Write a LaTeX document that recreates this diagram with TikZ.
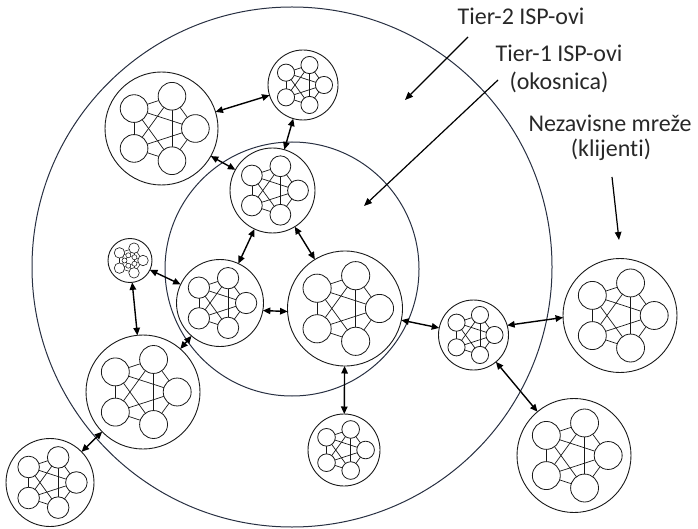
\documentclass[tikz,border=0pt]{standalone}
\usepackage{fontspec}
\setmainfont{Carlito}[Ligatures=NoCommon]
\usetikzlibrary{arrows.meta}
\definecolor{ringcol}{RGB}{40,48,66}
\definecolor{txtcol}{RGB}{40,40,40}
\definecolor{inkcol}{RGB}{25,25,25}

\tikzset{
  ring/.style={draw=ringcol, line width=1pt},
  cluster/.style={circle, draw=inkcol, line width=0.9pt, inner sep=0pt, outer sep=0pt},
  host/.style={circle, draw=inkcol, fill=white, line width=0.8pt, inner sep=0pt, outer sep=0pt},
  netline/.style={draw=inkcol, line width=0.7pt},
  link/.style={{Triangle[length=7.5pt,width=6.5pt]}-{Triangle[length=7.5pt,width=6.5pt]}, draw=black, line width=1.4pt},
  pointer/.style={-{Triangle[length=8pt,width=6.5pt]}, draw=black, line width=1.2pt},
  labeltext/.style={text=txtcol, font=\fontsize{24}{29}\selectfont, anchor=base, inner sep=0pt}
}

% One network: outer circle (named node) holding five fully meshed hosts
\newcommand\netcluster[4]{%
  \node[cluster, minimum size=2*#4] (#1) at (#2,#3) {};
  \begin{scope}[shift={(#2,#3)}]
    \foreach \k in {0,...,4} \coordinate (#1-\k) at (\k*72:0.6*#4);
    \foreach \p/\q in {0/1,0/2,0/3,0/4,1/2,1/3,1/4,2/3,2/4,3/4}
      \draw[netline] (#1-\p) -- (#1-\q);
    \foreach \k in {0,...,4} \node[host, minimum size=0.49*#4] at (#1-\k) {};
  \end{scope}}

\begin{document}
\begin{tikzpicture}[x=1pt, y=-1pt]
  \useasboundingbox (0,0) rectangle (698,529);

  % Tier-2 and Tier-1 rings
  \node[circle, ring, minimum size=520, inner sep=0pt] (tier2) at (292,267) {};
  \node[circle, ring, minimum size=254, inner sep=0pt] (tier1) at (292,269) {};

  % networks
  \netcluster{c1}{161.5}{128.5}{56.5}
  \netcluster{c2}{303}{85}{35}
  \netcluster{c3}{272.5}{190.5}{42.5}
  \netcluster{c4}{220}{303}{43.5}
  \netcluster{c5}{345}{308.5}{57.5}
  \netcluster{c7}{143}{392}{57}
  \netcluster{c8}{50}{482.5}{44}
  \netcluster{c9}{344}{450}{36}
  \netcluster{c10}{473.5}{335}{35}
  \netcluster{c11}{620}{315.5}{57}
  \netcluster{c12}{574}{455.5}{57}

  % smallest network: five hosts around a tight inner ring
  \node[cluster, minimum size=44] (c6) at (130,260.5) {};
  \begin{scope}[shift={(130,260.5)}]
    \foreach \k in {0,...,4} {
      \coordinate (c6-\k) at (\k*72:13);
      \coordinate (c6-i\k) at (\k*72+36:5.5);
    }
    \foreach \p/\q in {0/1,0/2,0/3,0/4,1/2,1/3,1/4,2/3,2/4,3/4}
      \draw[netline, line width=0.5pt] (c6-\p) -- (c6-\q);
    \foreach \k in {0,...,4} \node[host, line width=0.6pt, minimum size=10.5] at (c6-\k) {};
    \foreach \k in {0,...,4} \node[host, line width=0.5pt, minimum size=5] at (c6-i\k) {};
  \end{scope}

  % peering links
  \draw[link] (c1) -- (c2);
  \draw[link] (c1) -- (c3);
  \draw[link] (c3) -- (c2);
  \draw[link] (c3) -- (c4);
  \draw[link] (c3) -- (c5);
  \draw[link] (c4.-10) -- (c5.183);
  \draw[link] (c6) -- (c4);
  \draw[link] (c6) -- (c7);
  \draw[link] (c7) -- (c4);
  \draw[link] (c7) -- (c8);
  \draw[link] (c5) -- (c9);
  \draw[link] (c5) -- (c10);
  \draw[link] (c10.16) -- (c11.182);
  \draw[link] (c10) -- (c12);

  % captions
  \node[labeltext] (lt2) at (521,25) {Tier-2 ISP-ovi};
  \node[labeltext] (lt1a) at (559,62) {Tier-1 ISP-ovi};
  \node[labeltext] (lt1b) at (559,90) {(okosnica)};
  \node[labeltext] (lna) at (610,132) {Nezavisne mreže};
  \node[labeltext] (lnb) at (611,157) {(klijenti)};

  % caption pointers
  \coordinate (p2s) at (468,37);  \coordinate (p2e) at (405,100);
  \coordinate (p1s) at (498,80);  \coordinate (p1e) at (364,206);
  \coordinate (pns) at (612,177); \coordinate (pne) at (619,240);
  \draw[pointer] (p2s) -- (p2e);
  \draw[pointer] (p1s) -- (p1e);
  \draw[pointer] (pns) -- (pne);
\end{tikzpicture}
\end{document}
